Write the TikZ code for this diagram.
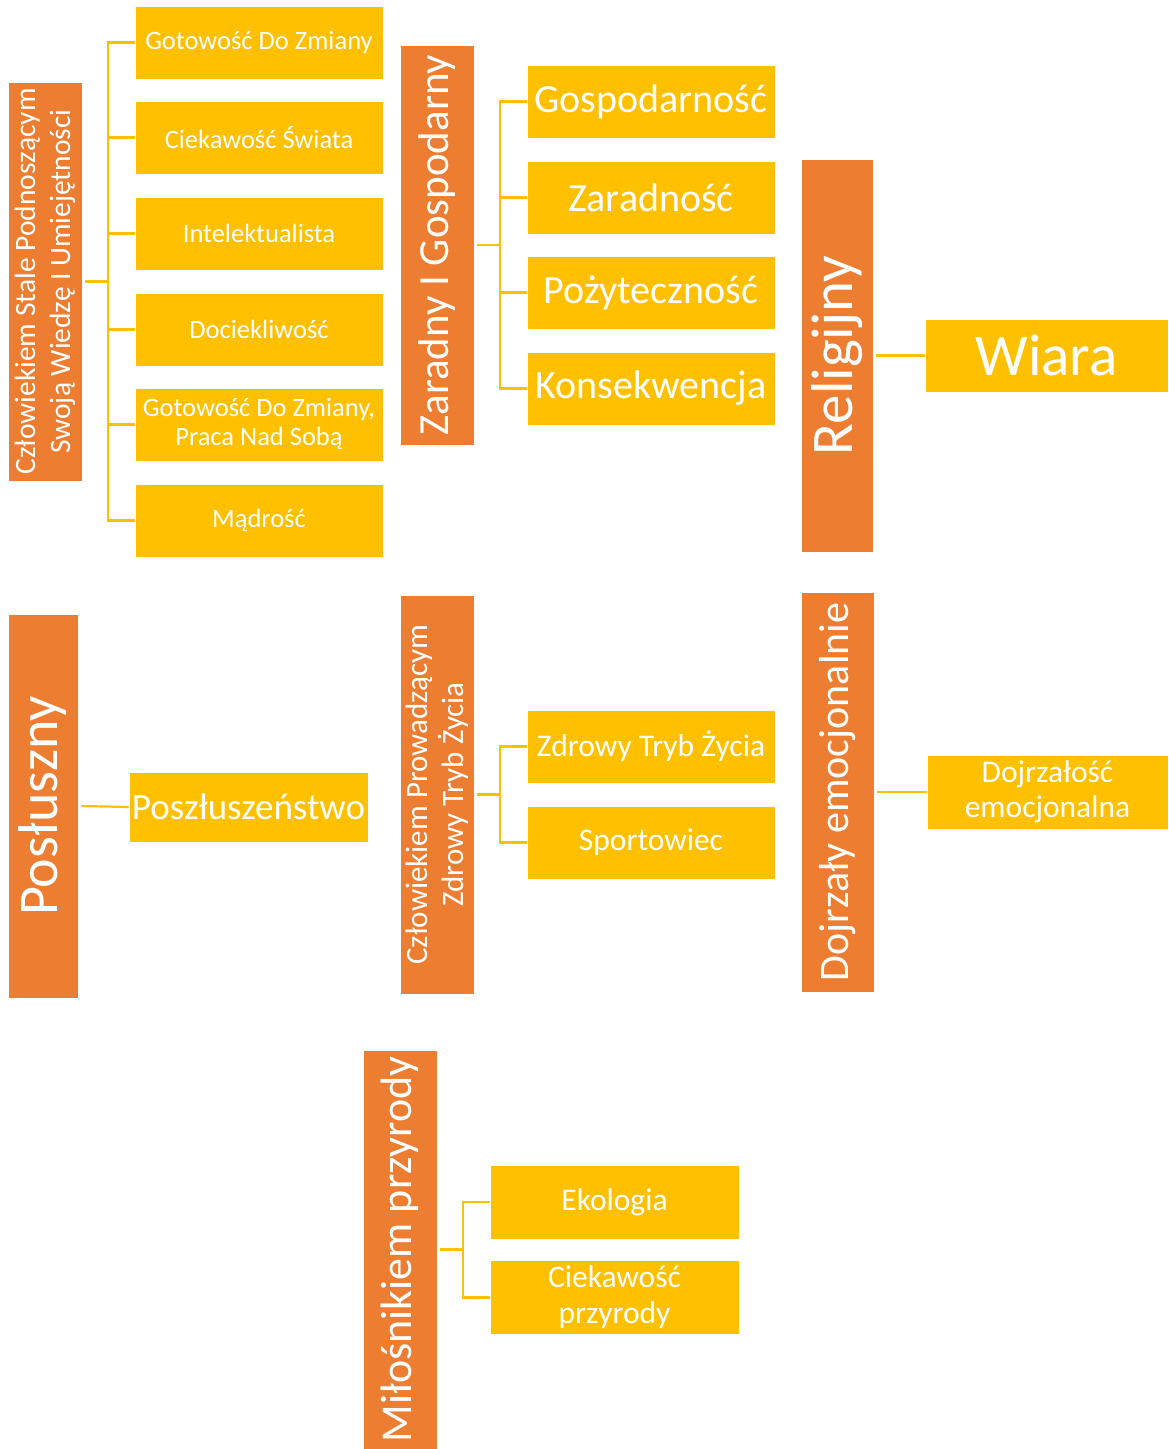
\documentclass[tikz,border=0pt]{standalone}
\usepackage{fontspec}
\setmainfont{Carlito}
\definecolor{orng}{HTML}{ED7D31}
\definecolor{gold}{HTML}{FFC000}
\tikzset{
  box/.style={draw=white, line width=0.6pt, inner sep=0pt, text=white, align=center},
  fsz/.style={font=\fontsize{#1}{#1}\selectfont},
  fsl/.style 2 args={font=\fontsize{#1}{#2}\selectfont},
  ob/.style={box, fill=orng, rotate=90},
  yb/.style={box, fill=gold},
  conn/.style={draw=gold, line width=2.2pt},
}
\begin{document}
\begin{tikzpicture}[x=1pt,y=-1pt]
\useasboundingbox (0,0) rectangle (1168,1449);
\clip (0,0) rectangle (1168,1449);

% group 1
\node[ob, fsl={29.5}{35}, minimum width=399pt, minimum height=74pt] (g1) at (45,281.5)
  {Człowiekiem Stale Podnoszącym\\Swoją Wiedzę I Umiejętności};
\node[yb, fsz=26.5, minimum width=248pt, minimum height=73pt] (g1a) at (259,42.5) {Gotowość Do Zmiany};
\node[yb, fsz=26.5, minimum width=248pt, minimum height=73pt] (g1b) at (259,137.5) {Ciekawość Świata};
\node[yb, fsz=26.5, minimum width=248pt, minimum height=73pt] (g1c) at (259,233.5) {Intelektualista};
\node[yb, fsz=26.5, minimum width=248pt, minimum height=73pt] (g1d) at (259,329.5) {Dociekliwość};
\node[yb, fsl={26.5}{29}, minimum width=248pt, minimum height=73pt] (g1e) at (259,424.5) {Gotowość Do Zmiany,\\Praca Nad Sobą};
\node[yb, fsz=26.5, minimum width=248pt, minimum height=73pt] (g1f) at (259,520.5) {Mądrość};
\draw[conn] (g1.south) ++(3,0) -- ++(23,0) coordinate (s1);
\foreach \c in {g1a,g1b,g1c,g1d,g1e,g1f} \draw[conn] (s1) |- (\c.west);

% group 2
\node[ob, fsz=43, minimum width=400pt, minimum height=74pt] (g2) at (437,245) {Zaradny I Gospodarny};
\node[yb, fsz=40, minimum width=248pt, minimum height=73pt] (g2a) at (651,101.5) {Gospodarność};
\node[yb, fsz=40, minimum width=248pt, minimum height=73pt] (g2b) at (651,197.5) {Zaradność};
\node[yb, fsz=40, minimum width=248pt, minimum height=73pt] (g2c) at (651,292.5) {Pożyteczność};
\node[yb, fsz=40, minimum width=248pt, minimum height=73pt] (g2d) at (651,388.5) {Konsekwencja};
\draw[conn] (g2.south) ++(3,0) -- ++(23,0) coordinate (s2);
\foreach \c in {g2a,g2b,g2c,g2d} \draw[conn] (s2) |- (\c.west);

% group 3
\node[ob, fsz=59, minimum width=393pt, minimum height=72pt] (g3) at (837,355.5) {Religijny};
\node[yb, fsz=59, minimum width=243pt, minimum height=73pt] (g3a) at (1046.5,355.5) {Wiara};
\draw[conn] (g3.south) ++(3,0) -- (g3a.west);

% group 4
\node[ob, fsz=56, minimum width=384pt, minimum height=70pt] (g4) at (43,806) {Posłuszny};
\node[yb, fsz=37, minimum width=239pt, minimum height=70pt] (g4a) at (248.5,807) {Poszłuszeństwo};
\draw[conn] (g4.south) ++(3,0) -- (g4a.west);

% group 5
\node[ob, fsl={31}{36}, minimum width=399pt, minimum height=74pt] (g5) at (437,794.5)
  {Człowiekiem Prowadzącym\\Zdrowy Tryb Życia};
\node[yb, fsz=31.5, minimum width=248pt, minimum height=73pt] (g5a) at (651,746.5) {Zdrowy Tryb Życia};
\node[yb, fsz=31.5, minimum width=248pt, minimum height=73pt] (g5b) at (651,842.5) {Sportowiec};
\draw[conn] (g5.south) ++(3,0) -- ++(23,0) coordinate (s5);
\foreach \c in {g5a,g5b} \draw[conn] (s5) |- (\c.west);

% group 6
\node[ob, fsz=42, minimum width=400pt, minimum height=73pt] (g6) at (837.5,792) {Dojrzały emocjonalnie};
\node[yb, fsl={31.5}{35}, minimum width=241pt, minimum height=74pt] (g6a) at (1047.5,792)
  {Dojrzałość\\emocjonalna};
\draw[conn] (g6.south) ++(3,0) -- (g6a.west);

% group 7
\node[ob, fsz=44, minimum width=399pt, minimum height=74pt] (g7) at (400,1249.5) {Miłośnikiem przyrody};
\node[yb, fsz=31.5, minimum width=249pt, minimum height=74pt] (g7a) at (614.5,1202) {Ekologia};
\node[yb, fsl={31.5}{36}, minimum width=249pt, minimum height=74pt] (g7b) at (614.5,1297.5)
  {Ciekawość\\przyrody};
\draw[conn] (g7.south) ++(3,0) -- ++(23,0) coordinate (s7);
\foreach \c in {g7a,g7b} \draw[conn] (s7) |- (\c.west);
\end{tikzpicture}
\end{document}
